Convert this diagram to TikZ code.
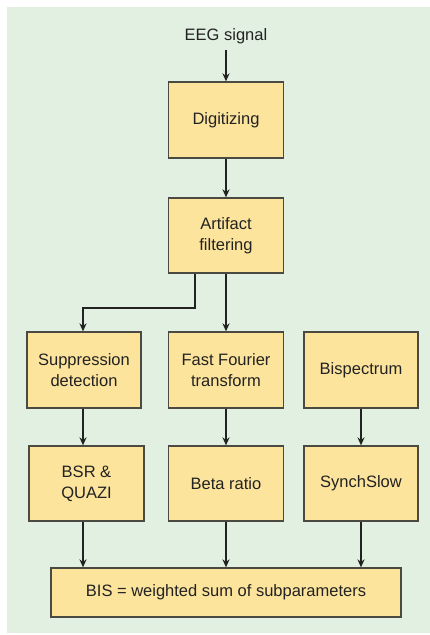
\documentclass[tikz,border=0pt]{standalone}
\usepackage{fontspec}
\setmainfont{Liberation Sans}
\usetikzlibrary{arrows.meta}
\definecolor{bg}{HTML}{E2F0E2}
\definecolor{boxfill}{HTML}{FCE49C}
\definecolor{edgec}{HTML}{4A4A42}
\definecolor{txt}{HTML}{222222}
\begin{document}
\begin{tikzpicture}[x=1pt,y=-1pt,
  stagebox/.style={draw=edgec, fill=boxfill, line width=1.3pt, minimum width=115pt, minimum height=76pt,
    align=center, inner sep=0pt, text=txt, font=\fontsize{16.5}{21}\selectfont},
  lbl/.style={text=txt, font=\fontsize{16.5}{21}\selectfont, inner sep=0pt},
  arr/.style={draw=txt, line width=1.5pt, -{Stealth[length=8pt,width=7pt]}}]
\useasboundingbox (0,0) rectangle (430,635);
\fill[bg] (7,7) rectangle (430,633);
\node[lbl] (eeg) at (226,36) {EEG signal};
\node[stagebox] (dig) at (226,120) {Digitizing};
\node[stagebox, minimum height=75pt] (art) at (226,235.5) {Artifact\\filtering};
\node[stagebox, minimum width=114pt] (sup) at (84,370) {Suppression\\detection};
\node[stagebox] (fft) at (226,370) {Fast Fourier\\transform};
\node[stagebox, minimum width=114pt] (bisp) at (361,370) {Bispectrum};
\node[stagebox, minimum height=75pt] (bsr) at (86.5,483.5) {BSR \&\\QUAZI};
\node[stagebox, minimum height=75pt] (beta) at (226,483.5) {Beta ratio};
\node[stagebox, minimum height=75pt, minimum width=114pt] (sync) at (361,483.5) {SynchSlow};
\node[stagebox, minimum width=350pt, minimum height=49pt] (bis) at (226,592.5) {BIS = weighted sum of subparameters};
\coordinate (k) at (195,308);
\coordinate (lx) at (83,0);
\draw[arr] ([yshift=-6pt]eeg.south) -- (dig.north);
\draw[arr] (dig.south) -- (art.north);
\draw[arr] (art.south -| k) -- (k) -| (sup.north -| lx);
\draw[arr] (art.south) -- (fft.north);
\draw[arr] (sup.south -| lx) -- (bsr.north -| lx);
\draw[arr] (fft.south) -- (beta.north);
\draw[arr] (bisp.south -| sync.north) -- (sync.north);
\draw[arr] (bsr.south -| lx) -- (bis.north -| lx);
\draw[arr] (beta.south) -- (beta.south |- bis.north);
\draw[arr] (sync.south) -- (sync.south |- bis.north);
\end{tikzpicture}
\end{document}
